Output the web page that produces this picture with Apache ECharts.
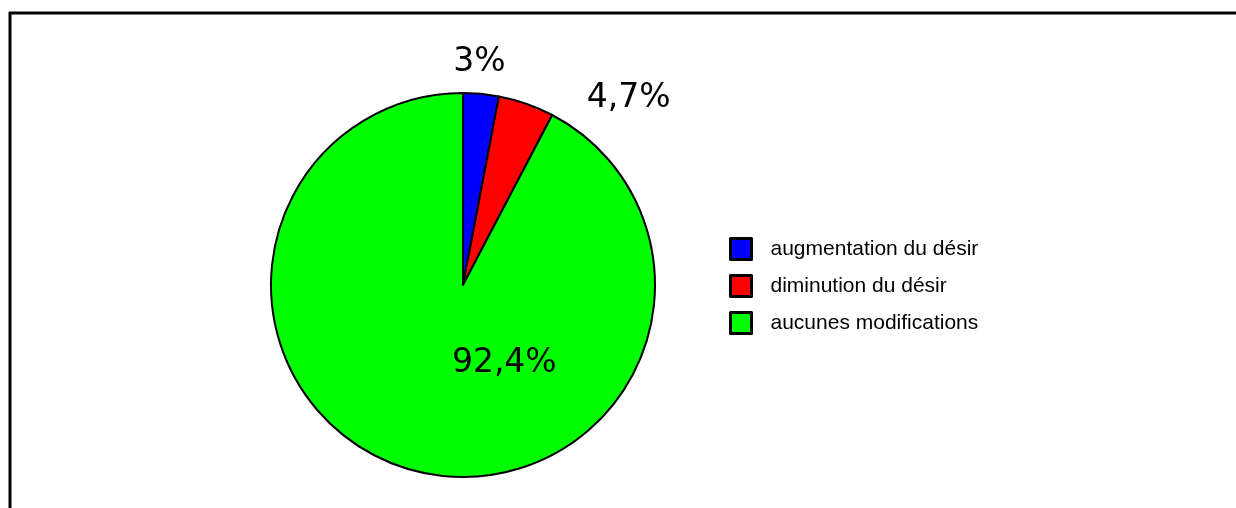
<!DOCTYPE html>
<html><head><meta charset="utf-8">
<style>html,body{margin:0;padding:0;background:#fff}#c{width:1236px;height:508px}</style>
<script src="https://cdn.jsdelivr.net/npm/echarts@6/dist/echarts.min.js"></script>
</head><body><div id="c"></div>
<script>
const categories = ['augmentation du désir', 'diminution du désir', 'aucunes modifications'];
const values = [3, 4.7, 92.4];
const valueLabels = ['3%', '4,7%', '92,4%'];
const colors = ['#0000ff', '#ff0000', '#00ff00'];
const labelOffsets = [[7, -124], [133, -93], [65, -18]];

const chart = echarts.init(document.getElementById('c'));
chart.setOption({
  animation: false,
  graphic: [
    { type: 'line', shape: { x1: 9, y1: 13, x2: 1236, y2: 13 }, style: { stroke: '#000', lineWidth: 3 } },
    { type: 'line', shape: { x1: 10, y1: 12, x2: 10, y2: 508 }, style: { stroke: '#000', lineWidth: 3 } }
  ],
  legend: {
    orient: 'vertical',
    left: 729,
    top: 237,
    padding: 0,
    itemWidth: 21,
    itemHeight: 21,
    itemGap: 13,
    icon: 'rect',
    itemStyle: { borderColor: '#000', borderWidth: 3 },
    textStyle: { fontFamily: 'Liberation Sans, Arial', fontSize: 21, color: '#000', padding: [0, 0, 0, 14] },
    data: categories
  },
  series: [{
    type: 'pie',
    center: [463, 285],
    radius: 192,
    startAngle: 90,
    clockwise: true,
    itemStyle: { borderColor: '#000', borderWidth: 2 },
    labelLine: { show: false },
    emphasis: { disabled: true },
    data: categories.map((n, i) => ({
      name: n,
      value: values[i],
      itemStyle: { color: colors[i] },
      label: {
        show: true,
        position: 'inside',
        formatter: valueLabels[i],
        offset: labelOffsets[i],
        fontFamily: 'DejaVu Sans',
        fontSize: 33,
        color: '#000'
      }
    }))
  }]
});
</script></body></html>
